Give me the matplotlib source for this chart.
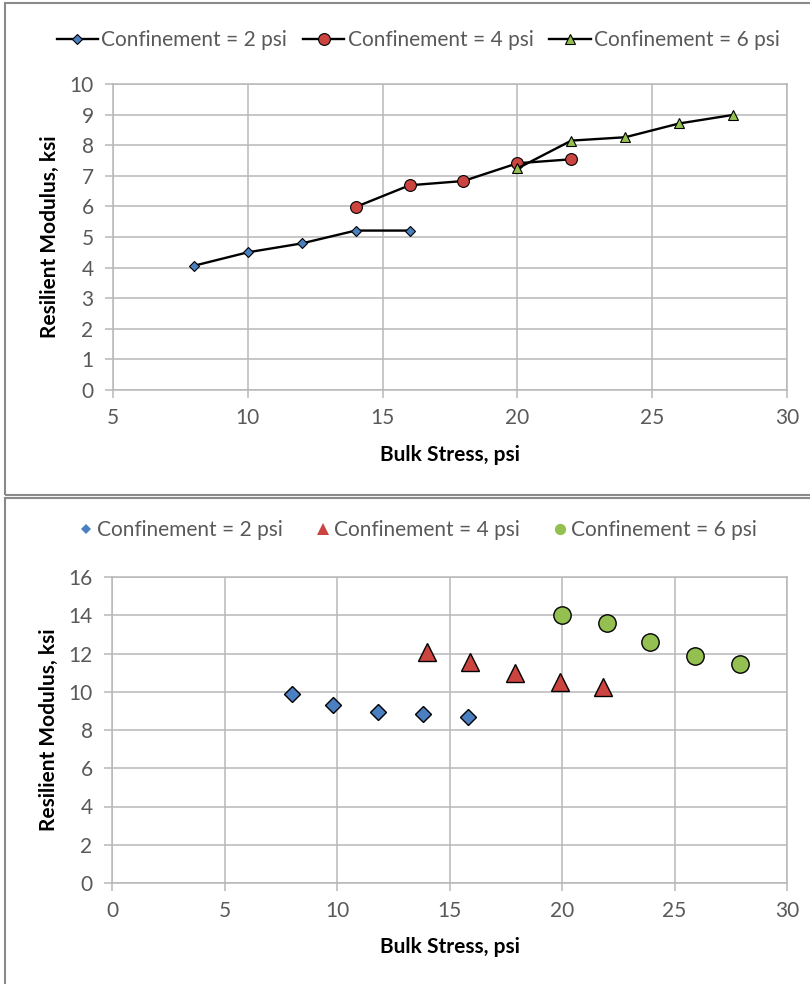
import matplotlib
matplotlib.use("Agg")
import matplotlib.pyplot as plt
from matplotlib.patches import Rectangle

plt.rcParams['font.family'] = ['Lato', 'DejaVu Sans']

# line chart: resilient modulus vs bulk stress per confinement level
x_2psi = [8, 10, 12, 14, 16]
mr_2psi = [4.06, 4.50, 4.79, 5.21, 5.21]
x_4psi = [14, 16, 18, 20, 22]
mr_4psi = [5.98, 6.69, 6.83, 7.41, 7.54]
x_6psi = [20, 22, 24, 26, 28]
mr_6psi = [7.24, 8.15, 8.26, 8.71, 8.99]

# scatter chart: second data set
sx_2psi = [8.0, 9.8, 11.8, 13.8, 15.8]
smr_2psi = [9.90, 9.30, 8.95, 8.86, 8.70]
sx_4psi = [14.0, 15.9, 17.9, 19.9, 21.8]
smr_4psi = [12.10, 11.56, 10.98, 10.51, 10.25]
sx_6psi = [20.0, 22.0, 23.9, 25.9, 27.9]
smr_6psi = [14.03, 13.61, 12.60, 11.85, 11.45]

labels = ['Confinement = 2 psi', 'Confinement = 4 psi', 'Confinement = 6 psi']

BLUE = '#4a7fc1'
RED = '#cc4440'
GREEN = '#93c050'
GRID = '#b8b8b8'
TXT = '#595959'

W, H = 810, 984
fig = plt.figure(figsize=(W / 100, H / 100), dpi=100)


def fx(px):
    return px / W


def fy(py):
    return 1 - py / H


# panel frames
fig.patches.append(Rectangle((fx(5), fy(495)), 1.0, fy(3) - fy(495),
                             transform=fig.transFigure, fill=False,
                             edgecolor='#8a8a8a', lw=1.5))
fig.patches.append(Rectangle((fx(5), fy(1000)), 1.0, fy(498) - fy(1000),
                             transform=fig.transFigure, fill=False,
                             edgecolor='#8a8a8a', lw=1.5))


def style_axes(ax, ylabel_x, xlabel_y):
    ax.grid(True, color=GRID, lw=1.1)
    ax.set_axisbelow(True)
    for s in ax.spines.values():
        s.set_color(GRID)
        s.set_linewidth(1.1)
    ax.tick_params(direction='out', length=6, width=1.1, color=GRID,
                   labelcolor=TXT, labelsize=15)
    ax.tick_params(axis='x', pad=7)
    ax.tick_params(axis='y', pad=8)
    ax.set_xlabel('Bulk Stress, psi', fontsize=15, fontweight='bold', va='center')
    ax.set_ylabel('Resilient Modulus, ksi', fontsize=15, fontweight='bold', va='center')
    ax.xaxis.set_label_coords(0.5, xlabel_y)
    ax.yaxis.set_label_coords(ylabel_x, 0.5)


# top chart
ax1 = fig.add_axes([fx(113), fy(390), fx(787) - fx(113), fy(84) - fy(390)])
ax1.plot(x_2psi, mr_2psi, color='black', lw=1.7, marker='D', ms=5.2,
         mfc=BLUE, mec='black', mew=0.8, label=labels[0])
ax1.plot(x_4psi, mr_4psi, color='black', lw=1.7, marker='o', ms=8.5,
         mfc=RED, mec='black', mew=0.8, label=labels[1])
ax1.plot(x_6psi, mr_6psi, color='black', lw=1.7, marker='^', ms=7.8,
         mfc=GREEN, mec='black', mew=0.8, label=labels[2])
ax1.set_xlim(5, 30)
ax1.set_ylim(0, 10)
ax1.set_xticks(range(5, 31, 5))
ax1.set_yticks(range(0, 11))
style_axes(ax1, -63 / 674, -65 / 306)

h, l = ax1.get_legend_handles_labels()
fig.legend(h, l, loc='center', bbox_to_anchor=(fx(418), fy(40)), ncol=3,
           frameon=False, fontsize=15, labelcolor=TXT, handlelength=2.0,
           handletextpad=0.15, columnspacing=0.75, borderpad=0)

# bottom chart
ax2 = fig.add_axes([fx(112), fy(883), fx(787) - fx(112), fy(577) - fy(883)])
ax2.plot(sx_2psi, smr_2psi, ls='none', marker='D', ms=8.5,
         mfc=BLUE, mec='black', mew=1.0, label=labels[0])
ax2.plot(sx_4psi, smr_4psi, ls='none', marker='^', ms=13,
         mfc=RED, mec='black', mew=1.0, label=labels[1])
ax2.plot(sx_6psi, smr_6psi, ls='none', marker='o', ms=12.5,
         mfc=GREEN, mec='black', mew=1.0, label=labels[2])
ax2.set_xlim(0, 30)
ax2.set_ylim(0, 16)
ax2.set_xticks(range(0, 31, 5))
ax2.set_yticks(range(0, 17, 2))
style_axes(ax2, -63 / 675, -64 / 306)

h2, l2 = ax2.get_legend_handles_labels()
leg2 = fig.legend(h2, l2, loc='center', bbox_to_anchor=(fx(418), fy(530)), ncol=3,
                  frameon=False, fontsize=15, labelcolor=TXT, handlelength=0.65,
                  handletextpad=0.2, columnspacing=1.6, borderpad=0,
                  markerscale=0.65)
for lh in leg2.legend_handles:
    lh.set_markeredgewidth(0)

fig.savefig('out.png', dpi=100)
